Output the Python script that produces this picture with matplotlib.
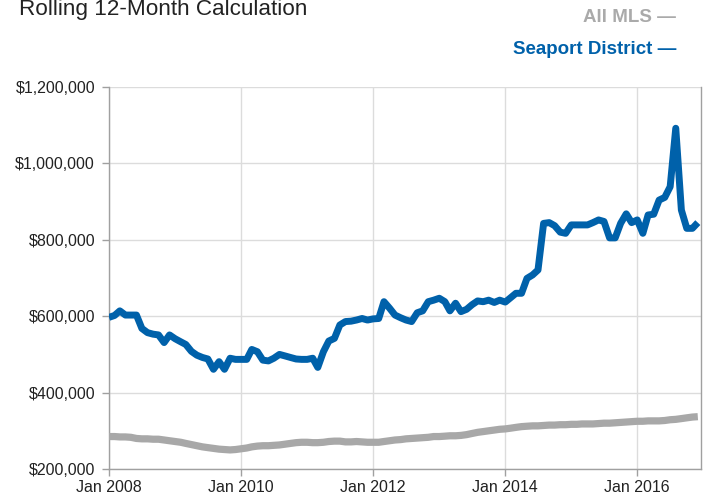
import matplotlib
matplotlib.use("Agg")
import matplotlib.pyplot as plt
import pandas as pd

dates = pd.date_range("2008-01-01", "2016-12-01", freq="MS")

seaport = [
    597, 602, 614, 603, 603, 603, 568, 557, 553, 551, 531, 551,
    541, 533, 526, 508, 498, 492, 488, 461, 481, 461, 490, 487,
    487, 487, 513, 507, 485, 483, 490, 500, 496, 492, 488, 487,
    487, 490, 466, 507, 535, 542, 577, 586, 587, 590, 594, 590,
    593, 594, 638, 621, 603, 596, 590, 586, 609, 614, 638, 642,
    647, 638, 614, 634, 612, 618, 630, 640, 638, 642, 636, 642,
    637, 649, 660, 660, 699, 708, 721, 843, 845, 837, 820, 817,
    839, 839, 839, 839, 845, 852, 848, 805, 805, 843, 868, 845,
    852, 817, 865, 867, 904, 911, 939, 1092, 878, 830, 830, 845,
]
all_mls = [
    285, 285, 284, 284, 283, 280, 279, 279, 278, 278, 276, 274,
    272, 270, 267, 264, 261, 258, 256, 254, 252, 251, 250, 251,
    253, 255, 258, 260, 261, 261, 262, 263, 265, 267, 269, 270,
    270, 269, 269, 270, 272, 273, 273, 271, 271, 272, 271, 270,
    270, 270, 272, 274, 276, 277, 279, 280, 281, 282, 283, 285,
    285, 286, 287, 287, 288, 290, 293, 296, 298, 300, 302, 304,
    305, 307, 309, 311, 312, 313, 313, 314, 315, 315, 316, 316,
    317, 317, 318, 318, 318, 319, 320, 320, 321, 322, 323, 324,
    325, 325, 326, 326, 326, 327, 329, 330, 332, 334, 336, 337,
]
seaport = [v * 1000 for v in seaport]
all_mls = [v * 1000 for v in all_mls]

y_ticks = [200000, 400000, 600000, 800000, 1000000, 1200000]
x_tick_years = [2008, 2010, 2012, 2014, 2016]

title = "Rolling 12-Month Calculation"
series_names = ["All MLS", "Seaport District"]

BLUE = "#0061AA"
GRAY = "#A8A8A8"

plt.rcParams['font.family'] = ['Liberation Sans', 'DejaVu Sans']

fig = plt.figure(figsize=(7.03, 4.96), dpi=100)
ax = fig.add_axes([0.155, 0.0544, 0.842, 0.7702])

ax.plot(dates, all_mls, color=GRAY, lw=5.2, solid_capstyle='butt', solid_joinstyle='round', zorder=3)
ax.plot(dates, seaport, color=BLUE, lw=5, solid_capstyle='butt', solid_joinstyle='round', zorder=4)

ax.set_ylim(200000, 1200000)
ax.set_xlim(pd.Timestamp("2008-01-01"), pd.Timestamp("2016-12-18"))
ax.set_yticks(y_ticks)
ax.set_yticklabels(["${:,.0f}".format(v) for v in y_ticks])
xt = [pd.Timestamp(f"{y}-01-01") for y in x_tick_years]
ax.set_xticks(xt)
ax.set_xticklabels([f"Jan {y}" for y in x_tick_years])

ax.grid(True, color="#DCDCDC", lw=1)
ax.set_axisbelow(True)
for s in ['left', 'bottom', 'right']:
    ax.spines[s].set_color("#A0A0A0")
    ax.spines[s].set_linewidth(1)
ax.spines['top'].set_visible(False)
ax.tick_params(axis='both', colors="#A0A0A0", labelcolor="#222222", labelsize=11.5, length=5, width=1)
ax.tick_params(axis='x', pad=3)
ax.tick_params(axis='y', pad=5)

fig.text(19 / 703, 1 - 15.5 / 496, title, fontsize=16.2, color="#222222", ha='left', va='baseline')

legend_font = ['Liberation Sans Narrow', 'Liberation Sans', 'DejaVu Sans']
fig.text(676 / 703, 1 - 18 / 496, series_names[0] + " \u2014", fontsize=13.5, fontweight='bold',
         color="#AAAAAA", ha='right', va='center', family=legend_font)
fig.text(676 / 703, 1 - 50 / 496, series_names[1] + " \u2014", fontsize=13.5, fontweight='bold',
         color=BLUE, ha='right', va='center', family=legend_font)

fig.savefig("out.png", dpi=100)
